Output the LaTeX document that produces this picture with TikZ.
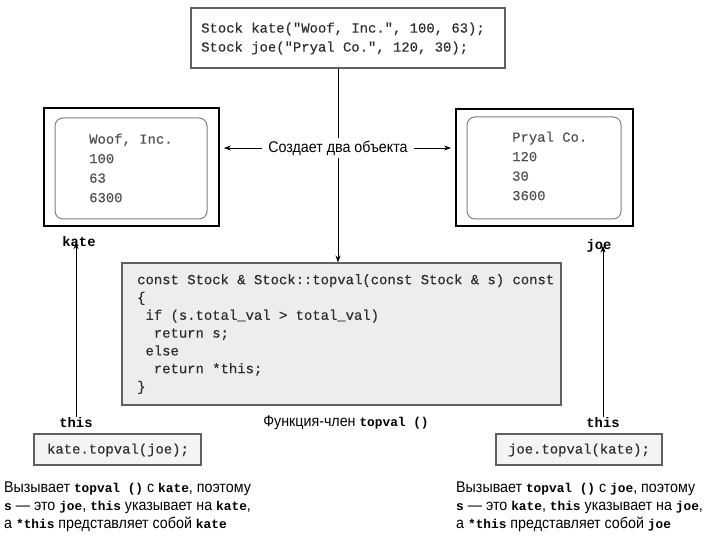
\documentclass[tikz,border=0pt]{standalone}
\usepackage{fontspec}
\setmainfont{Liberation Sans}
\newfontfamily\rus[FakeStretch=0.92]{Liberation Sans}
\setmonofont{Liberation Mono}
\newfontfamily\codefont[FakeBold=0.35]{Liberation Mono}
\usetikzlibrary{arrows.meta}
\definecolor{frameg}{HTML}{606060}
\definecolor{codeg}{HTML}{2E2E2E}
\definecolor{valg}{HTML}{505050}
\definecolor{fillg}{HTML}{EDEDED}
\newcommand{\mb}[1]{{\ttfamily\bfseries\fontsize{12.8}{14}\selectfont #1}}
\tikzset{
  frame/.style={draw=frameg, line width=1.1pt, inner sep=0pt},
  objbox/.style={draw=black, line width=1.8pt, inner sep=0pt},
  inbox/.style={draw=gray, line width=1pt, rounded corners=8pt, inner sep=0pt},
  codetxt/.style={font=\codefont\fontsize{13.9}{17.8}\selectfont, text=codeg, align=left, inner sep=0pt},
  valtxt/.style={font=\codefont\fontsize{13.9}{19.5}\selectfont, text=valg, align=left, inner sep=0pt},
  varname/.style={font=\ttfamily\bfseries\fontsize{13.8}{15}\selectfont, inner sep=1pt},
  rtxt/.style={font=\rus\fontsize{15.5}{18}\selectfont, align=left, inner sep=0pt},
  arr/.style={-{Stealth[length=7pt,width=5pt]}, line width=0.9pt}
}
\begin{document}
\begin{tikzpicture}[x=1pt,y=-1pt]
\useasboundingbox (0,0) rectangle (720,540);
% top box
\node[frame, minimum width=314pt, minimum height=60pt] (top) at (348,38) {};
\node[codetxt, font=\codefont\fontsize{13.9}{19}\selectfont, anchor=west] (toptext) at (201,38.5)
  {Stock kate("Woof, Inc.", 100, 63);\\Stock joe("Pryal Co.", 120, 30);};
% objects
\node[objbox, minimum width=175pt, minimum height=118pt] (kate) at (131.5,167) {};
\node[inbox, minimum width=152pt, minimum height=101pt] (katein) at (131,168.5) {};
\node[valtxt, anchor=west] (kateval) at (89,168) {Woof, Inc.\\100\\63\\6300};
\node[objbox, minimum width=177pt, minimum height=117pt] (joe) at (544.5,167.5) {};
\node[inbox, minimum width=154pt, minimum height=102pt] (joein) at (544,168) {};
\node[valtxt, anchor=west] (joeval) at (512,166) {Pryal Co.\\120\\30\\3600};
\node[varname] (kateL) at (79,242) {kate};
\node[varname] (joeL) at (599,246) {joe};
% label
\node[font=\rus\fontsize{15.5}{17}\selectfont, inner xsep=6pt, inner ysep=3pt] (lbl) at (338,148) {Создает два объекта};
% code box
\node[frame, fill=fillg, minimum width=439pt, minimum height=142pt] (code) at (341.5,334) {};
\node[codetxt, anchor=west] (codetext) at (137,334)
  {const Stock \& Stock::topval(const Stock \& s) const\\
   \{\\
   \ if (s.total\_val > total\_val)\\
   \ \ return s;\\
   \ else\\
   \ \ return *this;\\
   \}};
\node[font=\rus\fontsize{15.5}{17}\selectfont, inner sep=1pt] (fn) at (346,423) {Функция-член \mb{topval ()}};
% connectors
\draw[line width=0.9pt] (top.south -| lbl) -- (lbl.north);
\draw[arr] (lbl.south) -- (code.north -| lbl);
\draw[arr] (lbl.west) -- ([xshift=4pt]lbl.west -| kate.east);
\draw[arr] (lbl.east) -- ([xshift=-4pt]lbl.east -| joe.west);
% this labels and calls
\node[varname] (thisL) at (76,423) {this};
\node[varname] (thisR) at (603,423) {this};
\draw[arr] (thisL.north) -- ([yshift=6pt]thisL.north |- kateL.south);
\draw[arr] (thisR.north) -- ([yshift=8pt]thisR.north |- joeL.south);
\node[frame, fill=fillg!60, minimum width=167pt, minimum height=31pt] (callL) at (117.5,449.5) {};
\node[codetxt, font=\codefont\fontsize{13.9}{16}\selectfont] (callLt) at (118,450) {kate.topval(joe);};
\node[frame, fill=fillg!60, minimum width=166pt, minimum height=31pt] (callR) at (579,449.5) {};
\node[codetxt, font=\codefont\fontsize{13.9}{16}\selectfont] (callRt) at (579,450) {joe.topval(kate);};
% bottom text
\node[rtxt, anchor=north west] (descL) at (4,482)
  {Вызывает \mb{topval ()} с \mb{kate}, поэтому\\
   \mb{s} — это \mb{joe}, \mb{this} указывает на \mb{kate},\\
   а \mb{*this} представляет собой \mb{kate}};
\node[rtxt, anchor=north west] (descR) at (456,482)
  {Вызывает \mb{topval ()} с \mb{joe}, поэтому\\
   \mb{s} — это \mb{kate}, \mb{this} указывает на \mb{joe},\\
   а \mb{*this} представляет собой \mb{joe}};
\end{tikzpicture}
\end{document}
